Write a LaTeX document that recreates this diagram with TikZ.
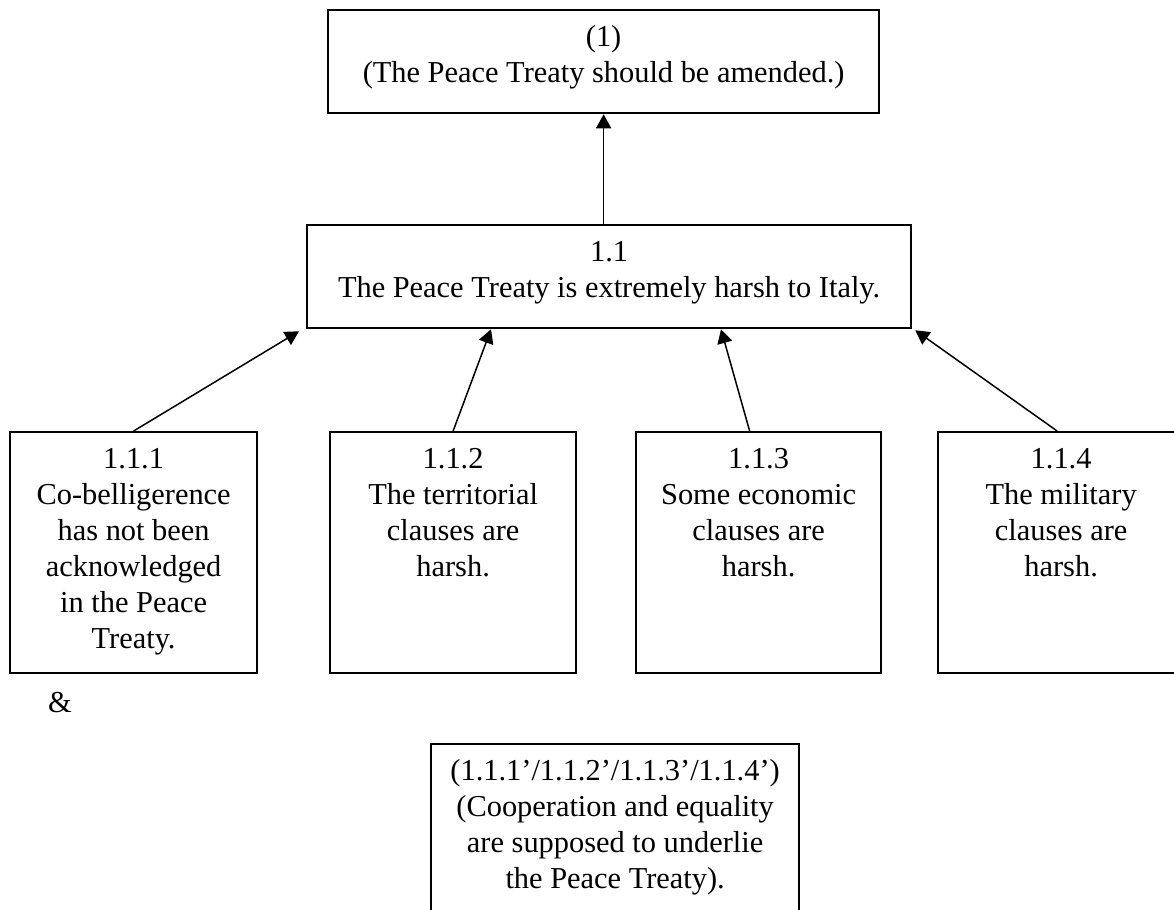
\documentclass[tikz,border=0pt]{standalone}
\usepackage{fontspec}
\setmainfont{Liberation Serif}
\usetikzlibrary{arrows.meta,calc}
\newlength{\px}
\setlength{\px}{0.4pt}
% width, height (in px), lines
\newcommand{\boxtext}[3]{\parbox[c][#2\px][t]{#1\px}{\centering\rule{0pt}{36\px}#3}}

\begin{document}
\begin{tikzpicture}[x=0.4pt,y=-0.4pt,
  every node/.style={font=\fontsize{12.16pt}{14.4pt}\selectfont},
  argbox/.style={draw, line width=0.9pt, inner sep=0pt, anchor=north west},
  supports/.style={line width=0.6pt, -{Triangle[length=5.6pt,width=6pt]}}]

\useasboundingbox (0,0) rectangle (1174,909);
\clip (0,0) rectangle (1174,909);

% claim and main reason
\node[argbox] (top) at (327,9) {\boxtext{551}{103}{(1)\\(The Peace Treaty should be amended.)}};
\node[argbox] (b11) at (306,224) {\boxtext{604}{103}{1.1\\The Peace Treaty is extremely harsh to Italy.}};

% sub-reasons
\node[argbox] (b111) at (9,431) {\boxtext{247}{241}{1.1.1\\Co-belligerence\\has not been\\acknowledged\\in the Peace\\Treaty.}};
\node[argbox] (b112) at (329,431) {\boxtext{246}{241}{1.1.2\\The territorial\\clauses are\\harsh.}};
\node[argbox] (b113) at (635,431) {\boxtext{245}{241}{1.1.3\\Some economic\\clauses are\\harsh.}};
\node[argbox] (b114) at (937,431) {\boxtext{246}{241}{1.1.4\\The military\\clauses are\\harsh.}};

\node (amp) at (60,703) {\&};
\node[argbox] (bridge) at (430,743) {\boxtext{368}{240}{(1.1.1’/1.1.2’/1.1.3’/1.1.4’)\\(Cooperation and equality\\are supposed to underlie\\the Peace Treaty).}};

\draw[supports] (top.south |- b11.north) -- (top.south);
\draw[supports] (b111.north) -- ($(b11.south west)+(-7,2)$);
\draw[supports] (b112.north) -- ($(b11.south west)+(185,0)$);
\draw[supports] ($(b113.north)+(-9,0)$) -- ($(b11.south west)+(415,0)$);
\draw[supports] ($(b114.north)+(-4,0)$) -- ($(b11.south east)+(3,1)$);
\end{tikzpicture}
\end{document}
